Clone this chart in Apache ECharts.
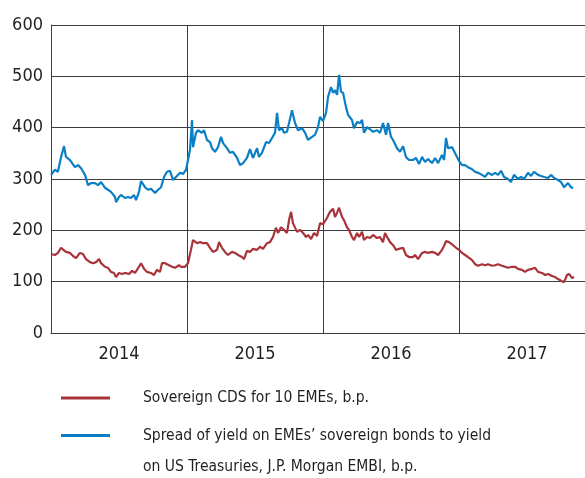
<!DOCTYPE html>
<html>
<head>
<meta charset="utf-8">
<script src="https://cdn.jsdelivr.net/npm/echarts@6/dist/echarts.min.js"></script>
<style>
html,body{margin:0;padding:0;background:#fff;}
#chart{width:585px;height:478px;}
</style>
</head>
<body>
<div id="chart"></div>
<script>
// ---- Data (decimal years, basis points) ----
var yearLabels = ['2014', '2015', '2016', '2017'];
var yTicks = [0, 100, 200, 300, 400, 500, 600];

var cdsName = 'Sovereign CDS for 10 EMEs, b.p.';
var embiName = 'Spread of yield on EMEs’ sovereign bonds to yield on US Treasuries, J.P. Morgan EMBI, b.p.';
var embiLegendLines = ['Spread of yield on EMEs’ sovereign bonds to yield', 'on US Treasuries, J.P. Morgan EMBI, b.p.'];

var embiT = [2014.000,2014.029,2014.051,2014.074,2014.096,2014.110,2014.140,2014.154,2014.176,2014.199,2014.221,2014.250,2014.272,2014.294,2014.324,2014.346,2014.368,2014.397,2014.419,2014.441,2014.471,2014.478,2014.500,2014.515,2014.544,2014.566,2014.588,2014.610,2014.625,2014.647,2014.662,2014.691,2014.713,2014.735,2014.765,2014.787,2014.809,2014.831,2014.853,2014.875,2014.897,2014.919,2014.949,2014.971,2014.993,
2015.007,2015.022,2015.037,2015.044,2015.066,2015.081,2015.110,2015.125,2015.147,2015.169,2015.184,2015.206,2015.228,2015.250,2015.265,2015.294,2015.316,2015.338,2015.368,2015.390,2015.412,2015.441,2015.463,2015.485,2015.515,2015.529,2015.551,2015.581,2015.603,2015.625,2015.647,2015.662,2015.676,2015.699,2015.713,2015.735,2015.750,2015.772,2015.794,2015.816,2015.846,2015.868,2015.890,2015.919,2015.941,2015.963,2015.978,
2016.000,2016.022,2016.037,2016.059,2016.074,2016.088,2016.103,2016.118,2016.132,2016.147,2016.169,2016.184,2016.213,2016.228,2016.250,2016.272,2016.287,2016.301,2016.324,2016.353,2016.368,2016.397,2016.419,2016.441,2016.463,2016.478,2016.500,2016.515,2016.544,2016.566,2016.588,2016.610,2016.632,2016.662,2016.684,2016.706,2016.728,2016.750,2016.772,2016.801,2016.824,2016.846,2016.875,2016.890,2016.904,2016.919,2016.949,2016.963,2016.985,
2017.000,2017.022,2017.044,2017.066,2017.096,2017.118,2017.140,2017.169,2017.191,2017.213,2017.243,2017.265,2017.287,2017.309,2017.331,2017.360,2017.382,2017.404,2017.434,2017.456,2017.478,2017.507,2017.529,2017.551,2017.581,2017.603,2017.625,2017.654,2017.676,2017.699,2017.728,2017.750,2017.772,2017.801,2017.824,2017.838];
var embiV = [308,318,314,343,364,343,337,339,323,327,321,308,288,292,292,288,294,283,279,275,265,255,265,269,263,265,263,269,259,275,296,284,279,281,273,279,284,304,314,316,298,304,312,310,318,
318,357,415,362,390,395,390,395,376,372,360,353,362,382,370,360,351,353,341,327,331,341,358,341,360,343,351,372,370,380,390,429,395,399,390,392,409,434,409,395,399,390,376,382,386,401,421,
413,429,460,479,468,473,464,503,470,468,440,425,415,399,411,409,415,390,401,395,392,395,390,409,386,409,382,376,360,353,364,343,337,337,341,329,343,333,339,331,341,331,347,337,380,360,362,364,343,
335,327,327,323,319,314,312,308,304,312,308,312,308,316,304,300,294,308,300,304,300,312,306,314,308,306,304,302,308,302,298,294,284,292,284,282];

var cdsT = [2014.000,2014.029,2014.051,2014.074,2014.088,2014.110,2014.140,2014.162,2014.184,2014.213,2014.235,2014.257,2014.287,2014.309,2014.331,2014.353,2014.368,2014.397,2014.419,2014.441,2014.463,2014.478,2014.500,2014.522,2014.544,2014.574,2014.596,2014.618,2014.647,2014.662,2014.684,2014.706,2014.735,2014.757,2014.779,2014.801,2014.816,2014.838,2014.868,2014.890,2014.912,2014.941,2014.956,2014.985,
2015.007,2015.029,2015.044,2015.074,2015.096,2015.118,2015.147,2015.169,2015.191,2015.221,2015.235,2015.257,2015.279,2015.301,2015.331,2015.353,2015.375,2015.404,2015.419,2015.441,2015.463,2015.485,2015.515,2015.537,2015.559,2015.588,2015.610,2015.632,2015.654,2015.669,2015.691,2015.713,2015.735,2015.750,2015.765,2015.779,2015.809,2015.831,2015.853,2015.875,2015.890,2015.912,2015.934,2015.956,2015.978,
2016.000,2016.029,2016.051,2016.074,2016.088,2016.103,2016.118,2016.140,2016.154,2016.176,2016.191,2016.213,2016.228,2016.250,2016.265,2016.287,2016.301,2016.324,2016.346,2016.368,2016.397,2016.419,2016.441,2016.456,2016.471,2016.493,2016.515,2016.537,2016.559,2016.588,2016.610,2016.632,2016.662,2016.676,2016.699,2016.728,2016.750,2016.772,2016.801,2016.824,2016.846,2016.875,2016.890,2016.904,2016.926,2016.956,2016.978,
2017.000,2017.022,2017.044,2017.066,2017.096,2017.118,2017.140,2017.169,2017.191,2017.213,2017.243,2017.265,2017.287,2017.316,2017.338,2017.360,2017.390,2017.412,2017.434,2017.463,2017.485,2017.507,2017.537,2017.559,2017.581,2017.610,2017.632,2017.654,2017.684,2017.706,2017.728,2017.757,2017.772,2017.794,2017.809,2017.831,2017.846];
var cdsV = [154,152,156,166,168,158,156,150,146,156,154,144,138,136,138,144,136,129,127,119,117,109,117,115,117,115,121,117,129,136,125,119,117,113,123,119,136,136,132,129,127,132,129,129,
136,162,181,175,177,175,175,166,158,162,177,166,158,152,158,156,152,148,144,160,158,164,162,168,164,175,177,187,205,195,206,201,195,220,236,214,197,201,195,187,191,183,195,189,214,
212,224,236,242,226,234,244,226,220,206,201,187,181,195,187,197,181,187,185,191,185,187,177,195,187,177,171,162,164,166,152,148,148,152,144,156,158,156,158,156,152,162,170,179,177,171,166,
162,156,152,148,142,134,131,134,132,134,131,132,134,131,129,127,129,129,125,123,119,123,125,127,119,117,113,115,111,109,105,101,99,113,115,107,109];

// ---- Styles ----
var FONT = "'Liberation Sans Narrow', 'DejaVu Sans Condensed', sans-serif";
var TXT = '#231f20';
var RED = '#a8343a';
var BLUE = '#0a7fc4';
var GRID = '#3c3c3c';

function pairs(t, v) { return t.map(function (x, i) { return [x, v[i]]; }); }

var chart = echarts.init(document.getElementById('chart'), null, { renderer: 'canvas' });
chart.setOption({
  animation: false,
  backgroundColor: '#fff',
  grid: { left: 51, right: 0, top: 25, bottom: 145, containLabel: false },
  xAxis: {
    type: 'value', min: 2014, max: 2017.926, interval: 0.5,
    axisLine: { show: true, lineStyle: { color: GRID, width: 1 } },
    axisTick: { show: false },
    splitLine: { show: true, showMinLine: true, showMaxLine: false,
      lineStyle: { color: [GRID, 'rgba(0,0,0,0)'], width: 1 } },
    axisLabel: {
      fontFamily: FONT, fontSize: 18, color: TXT, margin: 12,
      showMinLabel: true, showMaxLabel: false,
      formatter: function (v) {
        var frac = v - Math.floor(v);
        if (Math.abs(frac - 0.5) < 1e-6) return yearLabels[Math.floor(v) - 2014] || '';
        return '';
      }
    }
  },
  yAxis: {
    type: 'value', min: yTicks[0], max: yTicks[yTicks.length - 1], interval: 100,
    axisLine: { show: true, lineStyle: { color: GRID, width: 1 } },
    axisTick: { show: false },
    splitLine: { show: true, lineStyle: { color: GRID, width: 1 } },
    axisLabel: { fontFamily: FONT, fontSize: 18, color: TXT, margin: 8 }
  },
  legend: [
    {
      data: [cdsName], orient: 'vertical', left: 61, top: 387, padding: 0,
      icon: 'rect', itemWidth: 49, itemHeight: 3, selectedMode: false,
      textStyle: { fontFamily: FONT, fontSize: 15.5, color: TXT, lineHeight: 22, padding: [0, 0, 0, 28] }
    },
    {
      data: [embiName], orient: 'vertical', left: 61, top: 389, padding: 0,
      icon: 'rect', itemWidth: 49, itemHeight: 3, selectedMode: false,
      formatter: function () { return '\n' + embiLegendLines.join('\n'); },
      textStyle: { fontFamily: FONT, fontSize: 15.5, color: TXT, lineHeight: 31, padding: [0, 0, 0, 28] }
    }
  ],
  series: [
    {
      name: embiName, type: 'line', data: pairs(embiT, embiV),
      showSymbol: false, symbol: 'none', color: BLUE,
      lineStyle: { color: BLUE, width: 2.2 }, z: 3
    },
    {
      name: cdsName, type: 'line', data: pairs(cdsT, cdsV),
      showSymbol: false, symbol: 'none', color: RED,
      lineStyle: { color: RED, width: 2.2 }, z: 4
    }
  ]
});
</script>
</body>
</html>
